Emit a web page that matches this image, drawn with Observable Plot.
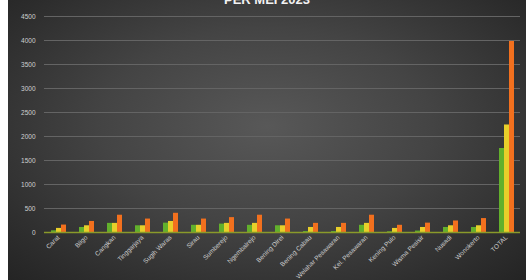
<!DOCTYPE html>
<html><head><meta charset="utf-8">
<script src="https://cdn.jsdelivr.net/npm/d3@7"></script>
<script src="https://cdn.jsdelivr.net/npm/@observablehq/plot@0.6"></script>
<style>
html,body{margin:0;padding:0;background:#fff;}
#wrap{position:absolute;left:8px;top:0;width:518px;height:280px;overflow:hidden;}
#title{position:absolute;left:0;top:-8px;width:518px;text-align:center;color:#f2f2f2;font:bold 13px "Liberation Sans",Arial,sans-serif;z-index:2;}
</style></head><body>
<div id="wrap"><div id="title">PER MEI 2023</div><div id="chart"></div></div>
<script>
const categories = ["Carat","Bligo","Cangkan","Tinggarjaya","Sugih Waras","Sirau","Sumberejo","Ngembalrejo","Bening Direi","Bening Cabau","Welahar Pesawaran","Kel. Pesawaran","Kening Pulo","Wisma Pesisir","Nusadi","Wonokerto","TOTAL"];
const seriesNames = ["Laki-laki","Perempuan","Jumlah"];
const male   = [35,105,190,140,195,150,175,150,140,20,20,150,15,30,105,105,1750];
const female = [85,140,190,140,230,150,190,190,140,105,105,190,85,105,140,140,2240];
const total  = [155,230,360,280,400,280,310,360,280,190,190,360,150,195,240,290,3980];
const yTicks = [0,500,1000,1500,2000,2500,3000,3500,4000,4500];
const colors = ["#62b02c","#e8cf2a","#f2701e"];

const data = categories.flatMap((c, i) => [
  {c, s: seriesNames[0], v: male[i]},
  {c, s: seriesNames[1], v: female[i]},
  {c, s: seriesNames[2], v: total[i]}
]);

const chart = Plot.plot({
  width: 518, height: 280,
  marginLeft: 29, marginRight: 0, marginTop: 16, marginBottom: 48,
  style: {
    background: "radial-gradient(ellipse at 50% 45%, #585858 0%, #444 45%, #2c2c2c 85%, #242424 100%)",
    color: "#d0d0d0",
    fontFamily: "'Liberation Sans', Arial, sans-serif",
    fontSize: "6.5px"
  },
  fx: {domain: categories, paddingInner: 0, paddingOuter: 0, label: null, tickRotate: -45, tickSize: 0, tickPadding: 4},
  x: {domain: seriesNames, paddingInner: 0, paddingOuter: 0.88, axis: null},
  y: {domain: [0, 4500], ticks: yTicks, label: null, tickSize: 0, tickPadding: 9, tickFormat: d => String(d)},
  color: {domain: seriesNames, range: colors},
  marks: [
    Plot.gridY(yTicks, {stroke: "#646464", strokeOpacity: 1}),
    Plot.barY(data, {fx: "c", x: "s", y: "v", fill: "s"}),
    Plot.ruleY([0], {stroke: "#8a9a2a", strokeWidth: 1.5})
  ]
});
document.getElementById("chart").appendChild(chart);
</script>
</body></html>
